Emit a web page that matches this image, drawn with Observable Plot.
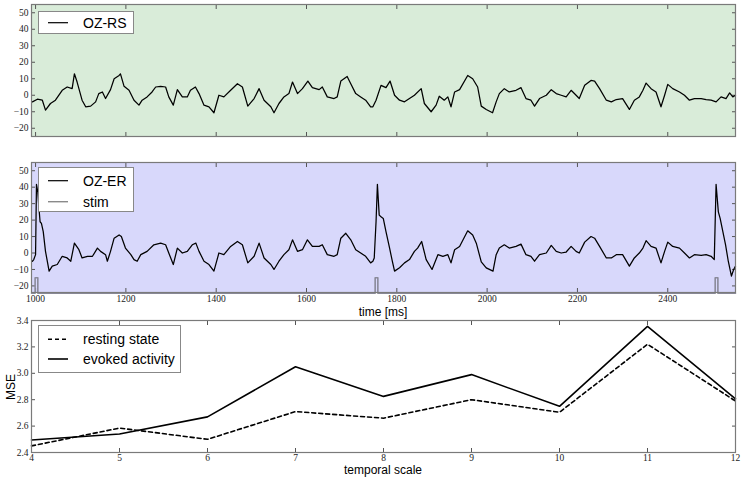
<!DOCTYPE html>
<html><head><meta charset="utf-8">
<script src="https://cdn.jsdelivr.net/npm/d3@7"></script>
<script src="https://cdn.jsdelivr.net/npm/@observablehq/plot@0.6"></script>
<style>
body{margin:0;background:#fff;}
#wrap{position:relative;width:744px;height:479px;overflow:hidden;}
#wrap svg{position:absolute;left:0;}
</style>
</head><body>
<div id="wrap"></div>
<script>
// ---- data ----
const restT = [993,1004,1015,1022,1033,1044,1059,1070,1081,1086,1092,1103,1111,1122,1133,1140,1148,1155,1166,1174,1185,1188,1196,1207,1218,1229,1236,1247,1258,1266,1277,1288,1295,1305,1314,1325,1336,1343,1354,1362,1373,1384,1395,1406,1417,1432,1447,1458,1470,1484,1495,1506,1521,1528,1539,1550,1561,1569,1580,1591,1603,1613,1628,1635,1646,1661,1668,1676,1690,1698,1709,1720,1731,1742,1747,1754,1765,1776,1785,1795,1806,1817,1828,1839,1854,1861,1876,1887,1894,1905,1913,1920,1928,1939,1957,1968,1979,1987,1998,2012,2020,2027,2038,2049,2064,2075,2086,2097,2105,2116,2131,2142,2153,2164,2175,2186,2197,2204,2216,2230,2238,2249,2264,2275,2286,2300,2315,2326,2337,2345,2352,2363,2374,2385,2393,2400,2411,2426,2437,2448,2459,2474,2485,2496,2507,2518,2529,2537,2544,2550];
const restV = [-4,-2.4,-3,-9,-5,-3,3,5,4,13,8,-3,-7,-6.6,-4,1,2,-2,3.4,10,12,13,5.4,3,-3,-6,-3,-1,2,5,5.4,5,-1,-6,3.4,-1,-1,3,5,1,-6,-7,-10.6,0,-1,3,7,5,-6.6,-2,4,-3,-7,-10.6,-5,-1,1,8,1,4,8.6,4.6,3.4,5,-1,-2,-1,8.6,11.4,7,1,-1,-3,-7,-7,-3,6,4.6,8.6,0,-3,-4,-2,0,4,-5,-10,-6,-0.6,-3,-1,-7,2,3.4,12,10,5,-6.6,-8.6,-10.6,-4,1,4,2,3,4.6,-2,-3,-6.6,-2,0,3.4,1,0,-1,3,0,-2,6,9,8.6,4,-3,-4,-2.6,-2,-8.6,-3,-1,3,7.4,4,2,-7,0,6.6,4,2,0,-3,-2,-2,-2.6,-3,-4,-1,-2,1.4,-1,0];

const evokT = [993,996,1000,1002,1005,1007,1010,1013,1017,1022,1030,1037,1048,1059,1070,1078,1086,1096,1103,1115,1126,1137,1144,1155,1159,1166,1174,1185,1190,1199,1211,1218,1225,1233,1247,1262,1277,1288,1295,1305,1314,1325,1336,1347,1355,1362,1373,1384,1395,1406,1417,1432,1447,1458,1470,1484,1495,1506,1521,1528,1539,1550,1561,1569,1580,1591,1602,1613,1628,1635,1646,1661,1668,1676,1687,1698,1709,1720,1731,1742,1747,1750,1754,1757,1761,1765,1770,1776,1784,1790,1795,1806,1817,1828,1839,1846,1855,1865,1878,1891,1902,1913,1920,1928,1939,1957,1968,1976,1987,1998,2013,2020,2027,2038,2049,2064,2075,2086,2097,2105,2116,2131,2142,2153,2164,2175,2186,2197,2204,2216,2230,2238,2249,2264,2275,2286,2300,2315,2326,2337,2345,2352,2363,2374,2385,2393,2400,2411,2426,2437,2448,2459,2474,2485,2496,2503,2507,2512,2516,2522,2528,2534,2541,2546,2550];
const evokV = [-5,-4,-1,41.7,37,29,19,18,13,1,-11,-8,-7,-2,-3,-5,6,2,-3,-2,-2,3,1,-1,-5,1,9,11,10,3,-1,-4,-5,-1,1,5,6,5,0,-7,3,0,1,5,6,1,-5,-7,-11,0,-1,4,7,5,-6,-2,6,-3,-7,-10,-5,-1,2,8,1,2,8,4,4,5,-1,-2,-1,9,12,8,2,0,-2,-6,-5,-3,19,41.7,23,22,21,13,3,-5,-11,-9,-6,-4,1,3,7,-4,-10,-1,-2,-1,-6,2,4,13.5,11,6,-5.4,-9,-11,-1,3,5,3,4,5.4,-1,-2,-5,-1,0,4.6,1,0,0.6,4,1,0,6.6,10,9,4,-3,-3,-1,-1,-8,-3,0,3,7.5,4,3,-6,1,6.6,4,3,0,-3,-1,-1.4,-1,-2,-4,41.7,25,21,13,5,-5,-14,-10,-8];

const stimT = [991,999,1005,1752,1758,2505,2511,2550];
const stimV = [-24.5,-15,-24.5,-15,-24.5,-15,-24.5,-24.5];

const scales = [4,5,6,7,8,9,10,11,12];
const mseRest = [2.45,2.585,2.50,2.71,2.66,2.80,2.705,3.22,2.79];
const mseEvoked = [2.495,2.54,2.67,3.05,2.825,2.99,2.75,3.355,2.807];

const timeTicks = [1000,1200,1400,1600,1800,2000,2200,2400];
const ampTicks = [-20,-10,0,10,20,30,40,50];
const mseTicks = [2.4,2.6,2.8,3.0,3.2,3.4];

// ---- helpers ----
const rest = restT.map((t,i)=>({t, v: restV[i]}));
const evok = evokT.map((t,i)=>({t, v: evokV[i]}));
const stim = stimT.map((t,i)=>({t, v: stimV[i]}));
const mse = scales.flatMap((s,i)=>[{s, v: mseRest[i], k:"rest"},{s, v: mseEvoked[i], k:"evok"}]);

const minusFmt = d => d < 0 ? "\u2212" + (-d) : String(d);
const wrap = document.getElementById("wrap");
const tickCol = "#555";
const frameCol = "#7a7a7a";

function inward(xTicks, yTicks) {
  const m = [];
  if (yTicks) {
    m.push(Plot.axisY({anchor:"left", ticks:yTicks, tickSize:-4, tickFormat:()=>"", label:null, stroke:tickCol}));
    m.push(Plot.axisY({anchor:"right", ticks:yTicks, tickSize:-4, tickFormat:()=>"", label:null, stroke:tickCol}));
  }
  if (xTicks) {
    m.push(Plot.axisX({anchor:"bottom", ticks:xTicks, tickSize:-4, tickFormat:()=>"", label:null, stroke:tickCol}));
    m.push(Plot.axisX({anchor:"top", ticks:xTicks, tickSize:-4, tickFormat:()=>"", label:null, stroke:tickCol}));
  }
  return m;
}

function place(svg, top) {
  svg.style.top = top + "px";
  wrap.appendChild(svg);
}

const baseStyle = {fontFamily:"'Liberation Serif', 'DejaVu Serif', serif", fontSize:"9.5px", background:"transparent", overflow:"visible", color:"#222"};

// ---- panel 1: resting state ----
place(Plot.plot({
  width:744, height:150, marginTop:4, marginBottom:14, marginLeft:31, marginRight:9,
  style: baseStyle,
  x:{domain:[991,2550], axis:null},
  y:{domain:[-25,55], axis:null},
  marks:[
    Plot.frame({fill:"#d9ecd9"}),
    Plot.axisY({anchor:"left", ticks:ampTicks, tickSize:0, tickPadding:3, tickFormat:minusFmt, label:null, fill:"#222"}),
    ...inward(timeTicks, ampTicks),
    Plot.line(rest, {x:"t", y:"v", stroke:"#000", strokeWidth:1.25}),
    Plot.frame({stroke:frameCol, strokeWidth:1.2})
  ]
}), 0);

// ---- panel 2: evoked ----
place(Plot.plot({
  width:744, height:170, marginTop:12, marginBottom:28, marginLeft:31, marginRight:9,
  style: baseStyle,
  x:{domain:[991,2550], axis:null},
  y:{domain:[-24,55], axis:null},
  marks:[
    Plot.frame({fill:"#d8d8fb"}),
    Plot.axisY({anchor:"left", ticks:ampTicks, tickSize:0, tickPadding:3, tickFormat:minusFmt, label:null, fill:"#222"}),
    Plot.axisX({anchor:"bottom", ticks:timeTicks, tickSize:0, tickPadding:3, tickFormat:d3.format("d"), label:null, fill:"#222"}),
    ...inward(timeTicks, ampTicks),
    Plot.line(stim, {x:"t", y:"v", stroke:"#8a8a9a", strokeWidth:1.6, curve:"step-after"}),
    Plot.line(evok, {x:"t", y:"v", stroke:"#000", strokeWidth:1.25}),
    Plot.frame({stroke:frameCol, strokeWidth:1.2})
  ]
}), 150);

// ---- panel 3: MSE ----
place(Plot.plot({
  width:744, height:164, marginTop:5, marginBottom:27, marginLeft:31, marginRight:9,
  style: baseStyle,
  x:{domain:[4,12], axis:null},
  y:{domain:[2.4,3.4], axis:null},
  marks:[
    Plot.axisY({anchor:"left", ticks:mseTicks, tickSize:0, tickPadding:3, tickFormat:d3.format(".1f"), label:null, fill:"#222"}),
    Plot.axisX({anchor:"bottom", ticks:scales, tickSize:0, tickPadding:2, tickFormat:d3.format("d"), label:null, fill:"#222"}),
    ...inward(scales, mseTicks),
    Plot.line(mse.filter(d=>d.k==="rest"), {x:"s", y:"v", stroke:"#000", strokeWidth:1.6, strokeDasharray:"4,3"}),
    Plot.line(mse.filter(d=>d.k==="evok"), {x:"s", y:"v", stroke:"#000", strokeWidth:1.6}),
    Plot.frame({stroke:frameCol, strokeWidth:1.2})
  ]
}), 315);

// ---- overlay: axis labels and legends ----
const ov = d3.create("svg").attr("width",744).attr("height",479)
  .style("top","0px").style("font-family","'Liberation Sans', Arial, sans-serif");
ov.append("text").attr("x",383).attr("y",315.5).attr("text-anchor","middle").attr("font-size",12).text("time [ms]");
ov.append("text").attr("x",383).attr("y",474).attr("text-anchor","middle").attr("font-size",12).text("temporal scale");
ov.append("text").attr("transform","translate(15,387) rotate(-90)").attr("text-anchor","middle").attr("font-size",12).text("MSE");

function legend(x, y, w, h, rows) {
  const g = ov.append("g");
  g.append("rect").attr("x",x+0.5).attr("y",y+0.5).attr("width",w).attr("height",h)
    .attr("fill","#fff").attr("stroke","#888").attr("stroke-width",1);
  rows.forEach(r => {
    g.append("line").attr("x1",x+10).attr("x2",x+30).attr("y1",r.y).attr("y2",r.y)
      .attr("stroke",r.color).attr("stroke-width",r.w).attr("stroke-dasharray",r.dash||null);
    g.append("text").attr("x",x+45).attr("y",r.y+5).attr("font-size",14).attr("fill","#000").text(r.label);
  });
}
legend(38, 11, 95, 22, [{y:22.7, label:"OZ-RS", color:"#000", w:1.2}]);
legend(38, 167, 95, 44, [{y:180.7, label:"OZ-ER", color:"#000", w:1.2},{y:201.7, label:"stim", color:"#8a8a8a", w:1.4}]);
legend(38, 325, 142, 47, [{y:339.3, label:"resting state", color:"#000", w:1.6, dash:"4,3"},{y:359, label:"evoked activity", color:"#000", w:1.6}]);
wrap.appendChild(ov.node());
</script>
</body></html>
